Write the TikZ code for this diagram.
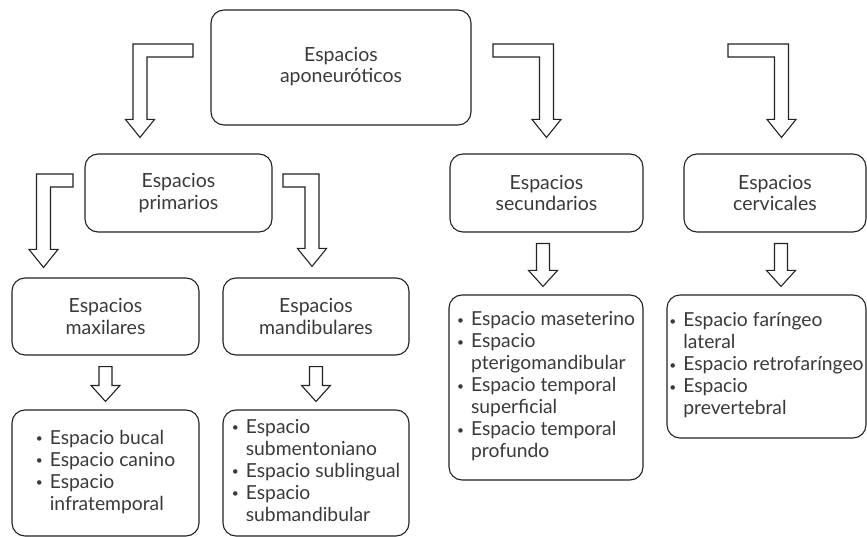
\documentclass[tikz,border=0pt]{standalone}
\usepackage{fontspec}
\setmainfont{Lato}
\usetikzlibrary{calc}
\definecolor{boxline}{HTML}{232323}
\definecolor{boxtext}{HTML}{3A3A3A}
\tikzset{
    space-box/.style = {draw=boxline, fill=white, line width=1.1pt, rectangle, rounded corners=13pt, inner sep=0pt, align=center, text=boxtext, font=\fontsize{19.5}{21.5}\selectfont},
    list-box/.style = {space-box, font=\fontsize{19.3}{22}\selectfont},
    block-arrow/.style = {draw=boxline, fill=white, line width=1.1pt},
}
% short straight arrow: source node, target node, x shift
\newcommand{\downblock}[3]{%
  \coordinate (db-top) at ($(#1.south)+(#3,11)$);
  \coordinate (db-end) at (db-top |- #2.north);
  \coordinate (db-tip) at ($(db-end)+(0,-8)$);
  \draw[block-arrow] ($(db-top)+(-6.5,0)$) -- ($(db-tip)+(-6.5,-16)$) -- ($(db-tip)+(-14.5,-16)$) -- (db-tip)
    -- ($(db-tip)+(14.5,-16)$) -- ($(db-tip)+(6.5,-16)$) -- ($(db-top)+(6.5,0)$) -- cycle;
}
% bent arrow: tip, point at bar height, bar length, side of the bar (1 right, -1 left)
\newcommand{\lblock}[4]{%
  \coordinate (lb-tip) at (#1);
  \coordinate (lb-h) at (#2);
  \coordinate (lb-c) at (lb-tip |- lb-h);
  \coordinate (lb-b) at ($(lb-c)+({#3*#4},0)$);
  \draw[block-arrow] ($(lb-b)+(0,-6.5)$) -- ($(lb-c)+({-7*#4},-6.5)$) -- ($(lb-tip)+({-7*#4},-18)$)
    -- ($(lb-tip)+({-14.5*#4},-18)$) -- (lb-tip) -- ($(lb-tip)+({14.5*#4},-18)$)
    -- ($(lb-tip)+({7*#4},-18)$) -- ($(lb-c)+({7*#4},6.5)$) -- ($(lb-b)+(0,6.5)$) -- cycle;
}
\newcommand{\itembullet}{\raisebox{1.5pt}{\fontsize{12}{12}\selectfont\textbullet}}

\begin{document}
\begin{tikzpicture}[x=1pt,y=-1pt]
\useasboundingbox (0,0) rectangle (867,537);

% boxes
\node[space-box, minimum width=260, minimum height=115] (top) at (341,67.5) {\raisebox{-5pt}{\begin{tabular}{@{}c@{}}Espacios\\aponeuróticos\end{tabular}}};
\node[space-box, minimum width=187, minimum height=78] (prim) at (178.5,193) {Espacios\\primarios};
\node[space-box, minimum width=193, minimum height=78] (sec) at (546.5,193) {Espacios\\secundarios};
\node[space-box, minimum width=182, minimum height=78] (cerv) at (775,193) {Espacios\\cervicales};
\node[space-box, minimum width=187, minimum height=77] (max) at (105.5,316.5) {Espacios\\maxilares};
\node[space-box, minimum width=186, minimum height=77] (mand) at (316,316.5) {Espacios\\mandibulares};

% lists
\node[list-box, minimum width=187, minimum height=126] (maxlist) at (105.5,473) {%
  \begin{tabular}{@{}l@{\hspace{7pt}}l@{}}
  \itembullet & Espacio bucal\\
  \itembullet & Espacio canino\\
  \itembullet & Espacio\\
              & infratemporal
  \end{tabular}};
\node[list-box, minimum width=186, minimum height=126] (mandlist) at (316,473) {%
  \begin{tabular}{@{}l@{\hspace{7pt}}l@{}}
  \itembullet & Espacio\\
              & submentoniano\\
  \itembullet & Espacio sublingual\\
  \itembullet & Espacio\\
              & submandibular
  \end{tabular}};
\node[list-box, minimum width=194, minimum height=185] (seclist) at (546,387.5) {%
  \begin{tabular}{@{}l@{\hspace{7pt}}l@{}}
  \itembullet & Espacio maseterino\\
  \itembullet & Espacio\\
              & pterigomandibular\\
  \itembullet & Espacio temporal\\
              & superficial\\
  \itembullet & Espacio temporal\\
              & profundo
  \end{tabular}};
\node[list-box, minimum width=199, minimum height=143] (cervlist) at (766.5,366.5) {%
  \begin{tabular}{@{}l@{\hspace{7pt}}l@{}}
  \itembullet & Espacio faríngeo\\
              & lateral\\
  \itembullet & Espacio retrofaríngeo\\
  \itembullet & Espacio\\
              & prevertebral
  \end{tabular}};

% bent arrows
\lblock{$(prim.north)+(-38.5,-16)$}{$(top.west)+(0,-17)$}{53}{1}
\lblock{$(sec.north)+(0,-16)$}{$(top.east)+(0,-17)$}{53.5}{-1}
\lblock{$(cerv.north)+(6.5,-16)$}{$(top.east)+(0,-17)$}{53.5}{-1}
\lblock{$(max.north)+(-62,-10)$}{$(prim.west)+(0,-12.5)$}{29.5}{1}
\lblock{$(mand.north)+(-4,-11)$}{$(prim.east)+(0,-12.5)$}{29}{-1}

% straight arrows
\downblock{max}{maxlist}{0}
\downblock{mand}{mandlist}{0}
\downblock{sec}{seclist}{-3.5}
\downblock{cerv}{cervlist}{6}
\end{tikzpicture}
\end{document}
